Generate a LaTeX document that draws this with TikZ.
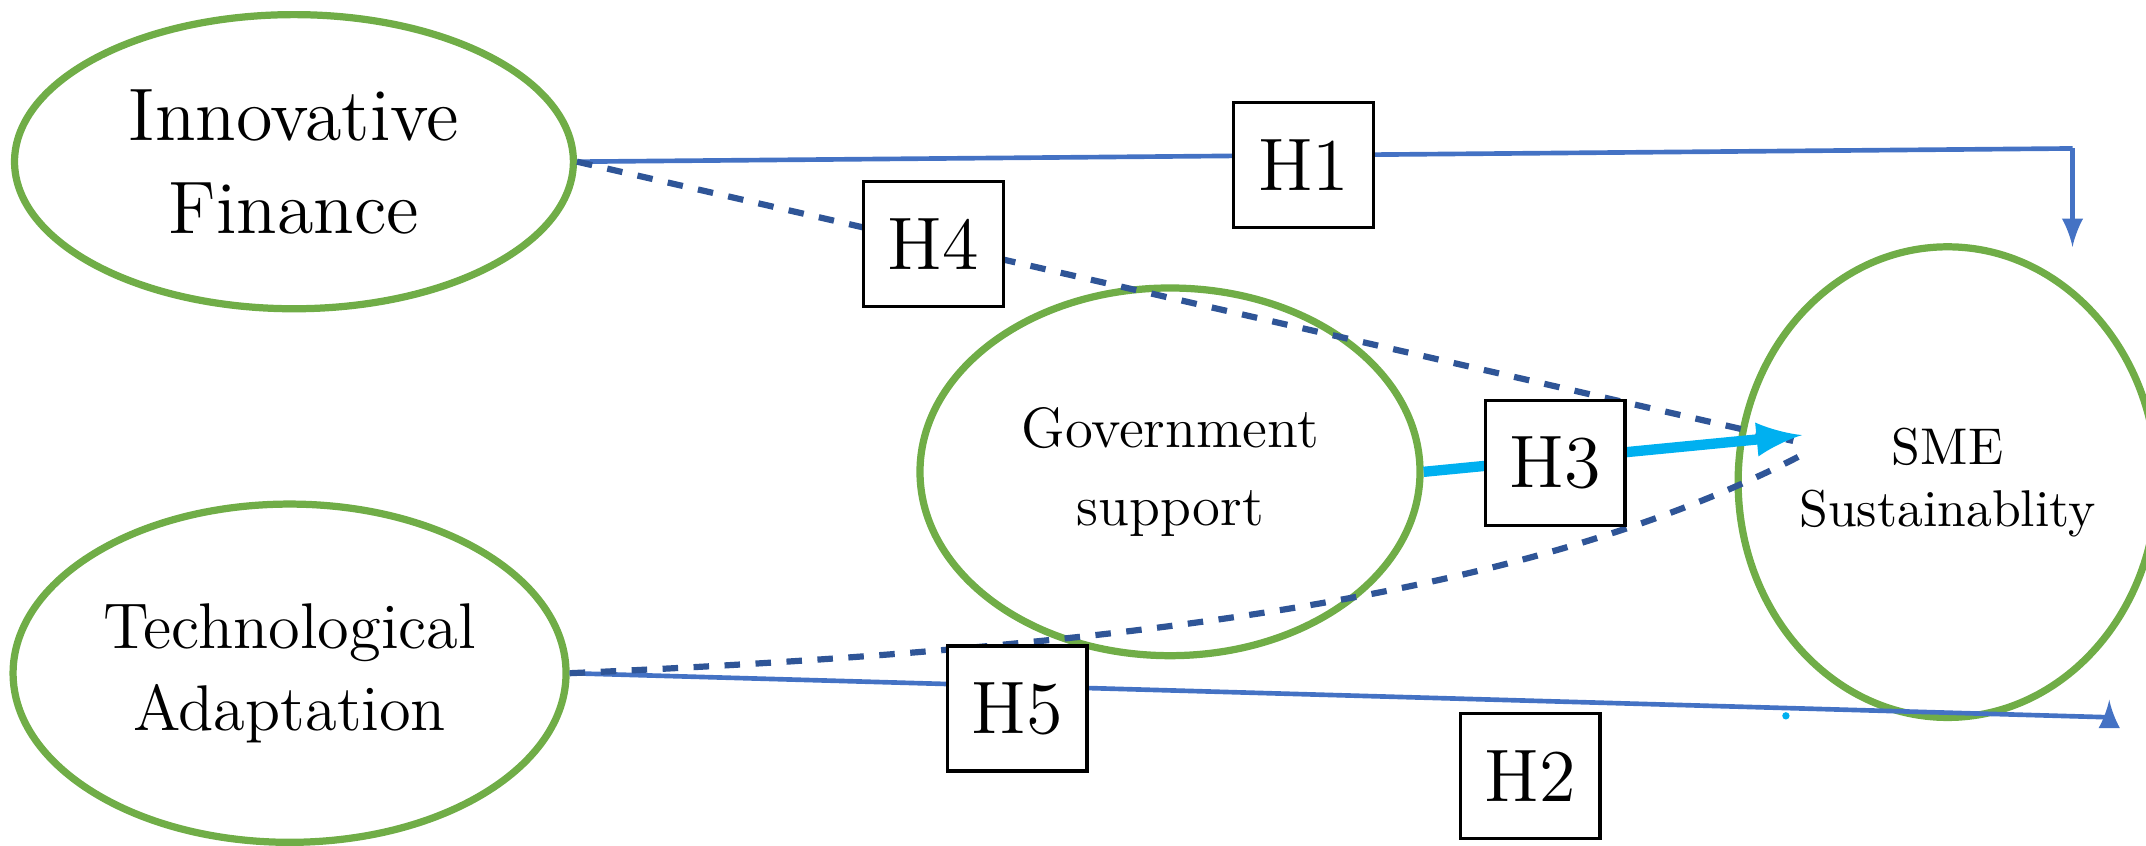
\documentclass[tikz,border=0pt]{standalone}
\usepackage{tikz}
\usetikzlibrary{shapes.geometric}
\definecolor{elgreen}{RGB}{112,173,71}
\definecolor{lnblue}{RGB}{68,114,196}
\definecolor{dkblue}{RGB}{47,85,151}
\definecolor{hcyan}{RGB}{0,176,240}
\tikzset{
  construct/.style={draw=elgreen, line width=1.4pt, ellipse, inner sep=0pt, align=center},
  hyp/.style={draw, fill=white, line width=0.6pt, minimum width=0.95cm, minimum height=0.85cm, font=\Large},
  direct/.style={draw=lnblue, line width=0.9pt},
  indirect/.style={draw=dkblue, line width=1.2pt, dashed}
}
\begin{document}
\begin{tikzpicture}[x=0.01cm,y=-0.01cm]
\useasboundingbox (0,0) rectangle (1460,575.5);
\node[construct, minimum width=3.8cm, minimum height=2cm, font=\Large] (if) at (200,110) {Innovative\\Finance};
\node[construct, minimum width=3.76cm, minimum height=2.3cm, font=\fontsize{12.5}{16}\selectfont] (ta) at (197,458) {Technological\\Adaptation};
\node[construct, minimum width=3.4cm, minimum height=2.5cm, font=\fontsize{11}{15}\selectfont] (gs) at (796,321) {Government\\support};
\node[construct, minimum width=2.3cm, minimum height=3.2cm, font=\normalsize] (sme) at (1325,328) {SME\\Sustainablity};
\coordinate (c1) at (1410,101);
\coordinate (e1) at (1410,168);
\coordinate (c2) at (1435,488);
\coordinate (e2) at (1435,476);
% direct paths
\path[direct] (if.east) -- (c1);
\path[direct,-latex] (c1) -- (e1);
\path[direct] (ta.east) -- (c2);
\path[direct,-latex] (c2) -- (e2);
% mediated paths
\path[indirect] (if.east) -- (1220,300);
\path[indirect] (ta.east) .. controls (800,440) and (1050,400) .. (1225,310);
\path[draw=hcyan, line width=2pt, -latex] (gs.east) -- (1226,296);
% labels
\node[hyp] (h1) at (887,112) {H1};
\node[hyp] (h4) at (635,166) {H4};
\node[hyp] (h3) at (1058,315) {H3};
\node[hyp] (h5) at (692,482) {H5};
\node[hyp] (h2) at (1041,528) {H2};
\fill[hcyan] (1215,487) circle (2.5);
\end{tikzpicture}
\end{document}
